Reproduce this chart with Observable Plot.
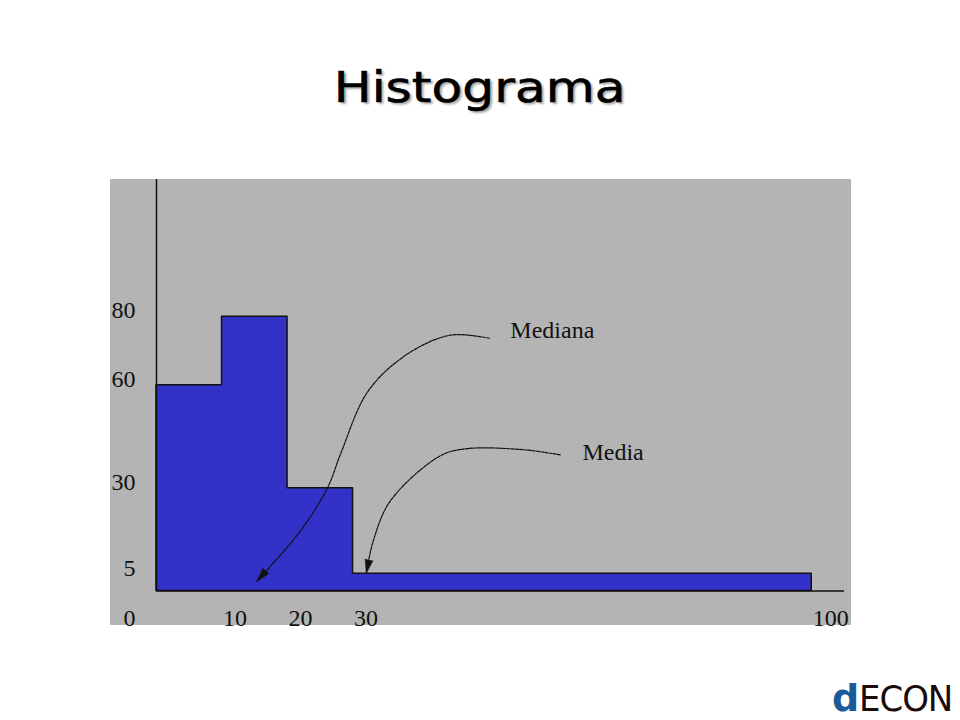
<!DOCTYPE html>
<html>
<head>
<meta charset="utf-8">
<script src="https://cdn.jsdelivr.net/npm/d3@7"></script>
<script src="https://cdn.jsdelivr.net/npm/@observablehq/plot@0.6"></script>
<style>
  html, body { margin: 0; padding: 0; background: #fff; width: 960px; height: 720px; overflow: hidden; }
  #title { position: absolute; left: 0; top: 62px; width: 960px; text-align: center;
           font-family: "DejaVu Sans", Verdana, sans-serif; font-size: 43px; color: #000;
           text-shadow: 2px 2px 2px rgba(0,0,0,0.35); -webkit-text-stroke: 0.6px #000; }
  #title span { display: inline-block; transform: scaleX(1.17); }
  #chart { position: absolute; left: 110px; top: 179px; }
  #logo { position: absolute; left: 832px; top: 679px; font-family: "DejaVu Sans", sans-serif; line-height: 1; }
  #logo .d { color: #1b5b9a; font-weight: bold; font-size: 38px; }
  #logo .econ { display: inline-block; color: #1a0a0a; font-family: "Liberation Sans Narrow", "DejaVu Sans Condensed", sans-serif; font-size: 36px; transform: scaleX(1.05); transform-origin: left; letter-spacing: -1px; }
</style>
</head>
<body>
<div id="title"><span>Histograma</span></div>
<div id="chart"></div>
<div id="logo"><span class="d">d</span><span class="econ">ECON</span></div>
<script>
// Histogram bins (class limits) and heights
const binStart = [0, 10, 20, 30];
const binEnd   = [10, 20, 30, 100];
const binHeight = [60, 80, 30, 5];

// Tick labels
const xTicks = [10, 20, 30, 100];
const yTicks = [80, 60, 30, 5];

// Annotation arrows (data coordinates)
const medianaX = [50.8, 44.9, 38.3, 32.3, 28.1, 26.1, 22.0, 15.3];
const medianaY = [73.7, 74.6, 69.1, 58.3, 40.0, 30.1, 17.6, 2.8];
const mediaX = [61.6, 56.0, 47.4, 43.3, 35.7, 33.1, 32.0];
const mediaY = [39.7, 41.2, 41.5, 39.4, 26.3, 14.7, 5.1];
const arrowTipX = [15.3, 32.0];
const arrowTipY = [2.8, 5.1];
const arrowAngle = [221, 192];

const labelText = ["Mediana", "Media"];
const labelX = [54.0, 65.0];
const labelY = [76.0, 40.4];

// step outline of the histogram: each bin start plus the final bin end
const steps = binStart.map((s, i) => ({x: s, y: binHeight[i]}))
  .concat([{x: binEnd[binEnd.length - 1], y: binHeight[binHeight.length - 1]}]);
const mediana = medianaX.map((x, i) => ({x, y: medianaY[i]}));
const media = mediaX.map((x, i) => ({x, y: mediaY[i]}));
const tips = arrowTipX.map((x, i) => ({x, y: arrowTipY[i], r: arrowAngle[i]}));
const labels = labelText.map((t, i) => ({t, x: labelX[i], y: labelY[i]}));

const serif = "Liberation Serif, Times New Roman, serif";

const chart = Plot.plot({
  width: 741,
  height: 446,
  marginLeft: 46,
  marginRight: 7,
  marginTop: 0,
  marginBottom: 34.5,
  style: { background: "#b4b4b4", overflow: "visible" },
  x: { domain: [0, 105], axis: null },
  y: { domain: [0, 120], axis: null },
  marks: [
    Plot.areaY(steps, { x: "x", y: "y", curve: "step-after", fill: "#3232c8", stroke: "#111", strokeWidth: 1.5 }),
    Plot.ruleX([0], { y1: 0, y2: 120, stroke: "#111", strokeWidth: 1.5 }),
    Plot.ruleY([0], { x1: 0, x2: 105, stroke: "#111", strokeWidth: 1.5 }),
    Plot.line(mediana, { x: "x", y: "y", curve: "catmull-rom", stroke: "#111", strokeWidth: 1.2, strokeDasharray: "3,1.2" }),
    Plot.line(media, { x: "x", y: "y", curve: "catmull-rom", stroke: "#111", strokeWidth: 1.2, strokeDasharray: "3,1.2" }),
    Plot.vector(tips, { x: "x", y: "y", rotate: "r", length: 14, r: 4, shape: "spike", anchor: "end", fill: "#111", stroke: "#111", strokeWidth: 0.5 }),
    Plot.text(labels, { x: "x", y: "y", text: "t", textAnchor: "start", fontFamily: serif, fontSize: 24, fill: "#111" }),
    Plot.text(yTicks, { y: d => d, text: d => String(d), frameAnchor: "left", textAnchor: "end", dx: -21, dy: -6, fontFamily: serif, fontSize: 24, fill: "#111" }),
    Plot.text(xTicks, { x: d => d, y: 0, text: d => String(d), textAnchor: "start", dx: 1, dy: 27, fontFamily: serif, fontSize: 24, fill: "#111" }),
    Plot.text([0], { x: d => d, y: 0, text: d => String(d), textAnchor: "end", dx: -21, dy: 27, fontFamily: serif, fontSize: 24, fill: "#111" })
  ]
});
document.getElementById("chart").appendChild(chart);
</script>
</body>
</html>
